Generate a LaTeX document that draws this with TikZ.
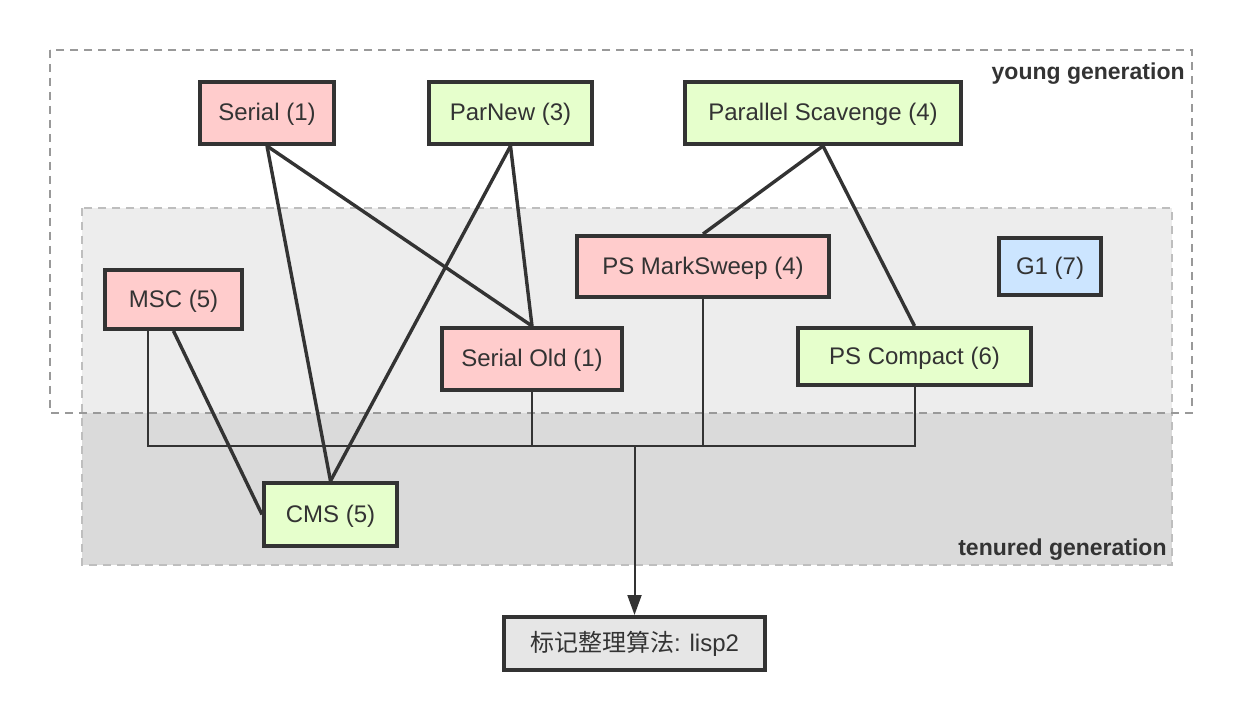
\documentclass[tikz,border=0pt]{standalone}
\usepackage{fontspec}
\setmainfont{Liberation Sans}
\newfontfamily\cjk{Noto Sans CJK SC}
\usetikzlibrary{positioning,arrows.meta,calc}
\definecolor{gcPink}{RGB}{255,204,204}
\definecolor{gcGreen}{RGB}{230,255,204}
\definecolor{gcBlue}{RGB}{204,229,255}
\definecolor{gcGray}{RGB}{51,51,51}
\definecolor{gcBox}{RGB}{230,230,230}
\definecolor{gcLight}{RGB}{237,237,237}
\definecolor{gcDark}{RGB}{218,218,218}
\definecolor{gcDash}{RGB}{153,153,153}
\definecolor{gcDashLight}{RGB}{190,190,190}

\begin{document}
\begin{tikzpicture}[x=0.5pt, y=-0.5pt,
  gc/.style={draw=gcGray, line width=2pt, text=gcGray, inner sep=0pt,
    text height=10pt, text depth=2pt, font=\fontsize{12}{14}\selectfont},
  link/.style={gcGray, line width=1.7pt},
  wire/.style={gcGray, line width=1pt},
  region/.style={dash pattern=on 4pt off 3pt, line width=0.75pt},
  tag/.style={anchor=east, text=gcGray, inner sep=0pt,
    font=\fontsize{11.5}{14}\selectfont\bfseries}]
  \useasboundingbox (0,0) rectangle (1247,721);

  % Tenured generation region
  \fill[gcDark] (82,208) rectangle (1172,565);
  \fill[gcLight] (82,208) rectangle (1172,413);
  \draw[region, gcDashLight] (82,208) rectangle (1172,565);
  \node[tag] (tenured) at (1167,550) {tenured generation};

  % Young generation region
  \draw[region, gcDash] (50,50) rectangle (1192,413);
  \node[tag] (young) at (1185,74) {young generation};

  % Collectors
  \node[gc, fill=gcPink, minimum width=67pt, minimum height=31pt] (serial) at (267,113) {Serial (1)};
  \node[gc, fill=gcGreen, minimum width=81.5pt, minimum height=31pt] (parnew) at (510.5,113) {ParNew (3)};
  \node[gc, fill=gcGreen, minimum width=138pt, minimum height=31pt] (pscav) at (823,113) {Parallel Scavenge (4)};
  \node[gc, fill=gcPink, minimum width=126pt, minimum height=30.5pt] (psms) at (703,266.5) {PS MarkSweep (4)};
  \node[gc, fill=gcBlue, minimum width=51pt, minimum height=28.5pt] (gone) at (1050,266.5) {G1 (7)};
  \node[gc, fill=gcPink, minimum width=68.5pt, minimum height=29.5pt] (msc) at (173.5,299.5) {MSC (5)};
  \node[gc, fill=gcPink, minimum width=90pt, minimum height=31pt] (serialold) at (532,359) {Serial Old (1)};
  \node[gc, fill=gcGreen, minimum width=116.5pt, minimum height=28.5pt] (pscompact) at (914.5,356.5) {PS Compact (6)};
  \node[gc, fill=gcGreen, minimum width=66.5pt, minimum height=31.5pt] (cms) at (330.5,514.5) {CMS (5)};

  % Algorithm
  \node[gc, fill=gcBox, minimum width=130.5pt, minimum height=26.5pt] (lisp) at (634.5,643.5) {{\cjk 标记整理算法}: lisp2};

  % Young/old pairings
  \draw[link] (serial.south) -- (cms.north);
  \draw[link] (serial.south) -- (serialold.north);
  \draw[link] (parnew.south) -- (serialold.north);
  \draw[link] (parnew.south) -- (cms.north);
  \draw[link] (msc.south) -- (cms.west);
  \draw[link] (pscav.south) -- (psms.north);
  \draw[link] (pscav.south) -- (pscompact.north);

  % Shared algorithm
  \coordinate (merge) at (634.5,446);
  \draw[wire] ($(msc.south west)!0.32!(msc.south east)$) |- (merge);
  \draw[wire] (serialold.south) |- (merge);
  \draw[wire] (psms.south) |- (merge);
  \draw[wire] (pscompact.south) |- (merge);
  \draw[wire, -{Triangle[length=10pt,width=7pt]}] (merge) -- (lisp.north);
\end{tikzpicture}
\end{document}
